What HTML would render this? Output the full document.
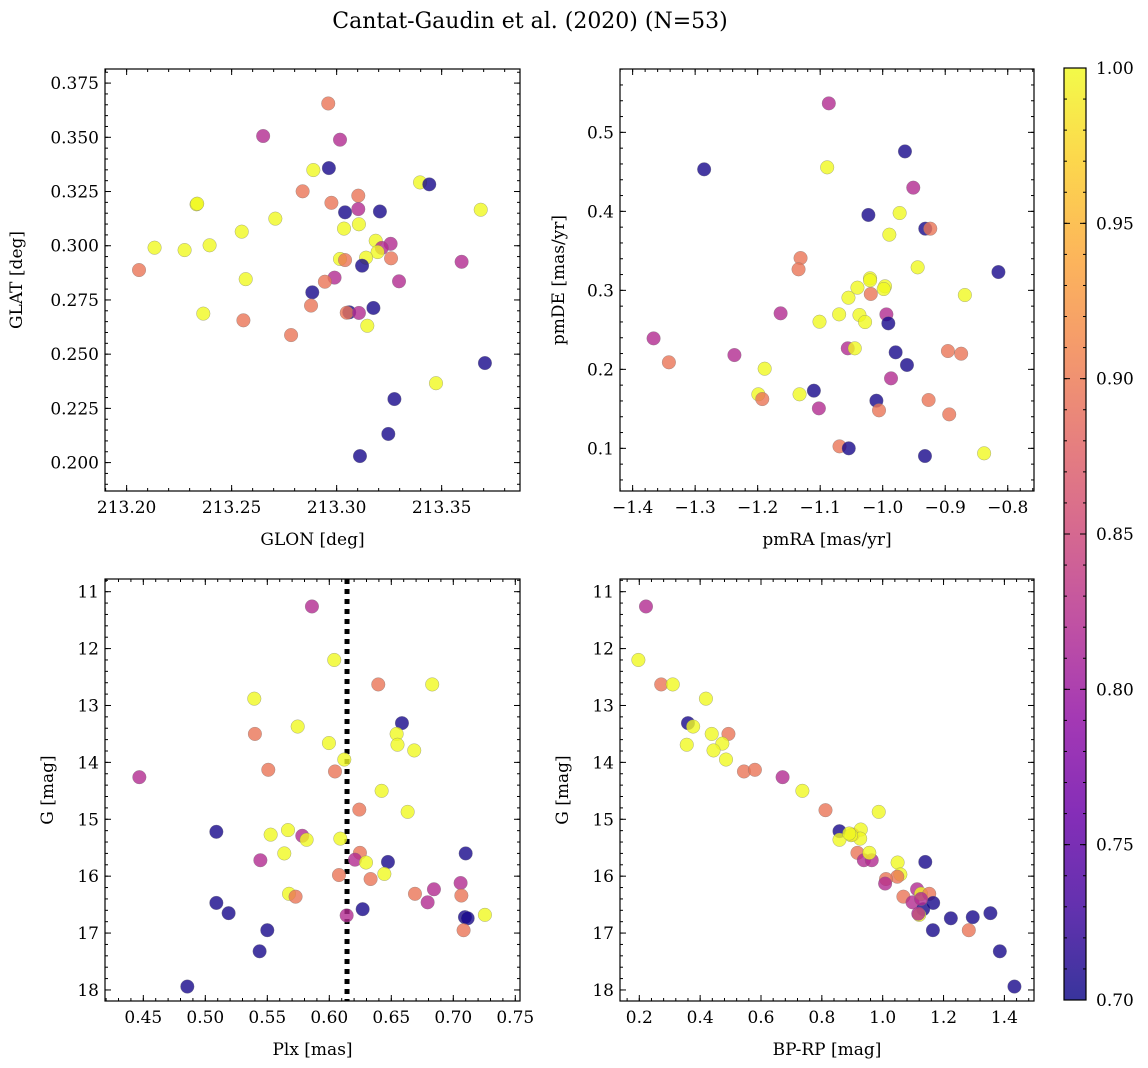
<!DOCTYPE html>
<html><head><meta charset="utf-8"><style>
body{margin:0;background:#fff}
svg{display:block;font-family:"DejaVu Serif","Liberation Serif",serif}
</style></head><body>
<svg id="fig" width="1148" height="1068" viewBox="0 0 1148 1068" xmlns="http://www.w3.org/2000/svg">
<defs>
<linearGradient id="plasma" x1="0" y1="1" x2="0" y2="0">
<stop offset="0" stop-color="#0d0887"/><stop offset="0.1" stop-color="#41049d"/><stop offset="0.2" stop-color="#6a00a8"/><stop offset="0.3" stop-color="#8f0da4"/><stop offset="0.4" stop-color="#b12a90"/><stop offset="0.5" stop-color="#cc4778"/><stop offset="0.6" stop-color="#e16462"/><stop offset="0.7" stop-color="#f2844b"/><stop offset="0.8" stop-color="#fca636"/><stop offset="0.9" stop-color="#fcce25"/><stop offset="1" stop-color="#f0f921"/>
</linearGradient>
</defs>
<text x="530" y="28" text-anchor="middle" font-size="22">Cantat-Gaudin et al. (2020) (N=53)</text>
</svg>
<script>
const Y=1.0,O=0.895,M=0.82,B=0.705;
// Panel 1: GLON vs GLAT
const p1x=[213.296,213.265,213.3016,213.2889,213.2963,213.3397,213.3441,213.2838,213.3103,213.2975,213.2333,213.304,213.3103,213.3206,213.3686,213.2708,213.3035,213.3106,213.2548,213.2133,213.2276,213.2395,213.3186,213.3257,213.3215,213.3195,213.3259,213.314,213.3016,213.304,213.3121,213.3595,213.2059,213.2567,213.299,213.2944,213.3297,213.2884,213.2878,213.2365,213.2556,213.306,213.3048,213.3106,213.3175,213.3146,213.2783,213.3706,213.3473,213.3275,213.3246,213.3111,213.2336];
const p1y=[0.3656,0.3506,0.3489,0.3349,0.3358,0.3292,0.3283,0.3251,0.3231,0.3198,0.3191,0.3154,0.3169,0.3158,0.3166,0.3125,0.3079,0.3099,0.3065,0.2991,0.2980,0.3002,0.3023,0.3009,0.2990,0.2971,0.2942,0.2945,0.2939,0.2934,0.2908,0.2926,0.2888,0.2846,0.2853,0.2834,0.2836,0.2785,0.2724,0.2687,0.2656,0.2693,0.2691,0.2690,0.2713,0.2631,0.2588,0.2459,0.2366,0.2293,0.2132,0.2030,0.3194];
const p1c=[O,M,M,Y,B,Y,B,O,O,O,Y,B,M,B,Y,Y,Y,Y,Y,Y,Y,Y,Y,M,M,Y,O,Y,Y,O,B,M,O,Y,M,O,M,B,O,Y,O,B,O,M,B,Y,O,B,Y,B,B,B,Y];
// Panel 2: pmRA vs pmDE
const p2x=[-1.0862,-0.9644,-1.2856,-1.0888,-0.9511,-1.0229,-0.9729,-0.9319,-0.9239,-0.9894,-1.1314,-1.1346,-0.9441,-0.8149,-1.0202,-1.0202,-1.0404,-0.9963,-0.9984,-1.0191,-1.0548,-0.8686,-1.1633,-1.0697,-1.0372,-1.0282,-1.1011,-0.9941,-0.9910,-1.3665,-1.0559,-1.0447,-1.2372,-1.342,-0.9793,-0.9612,-0.8957,-0.8745,-1.1888,-0.9867,-1.1989,-1.1926,-1.133,-1.1101,-1.1021,-1.0101,-1.0059,-0.9266,-0.8936,-1.0691,-1.0543,-0.9324,-0.8378];
const p2y=[0.5367,0.4759,0.4532,0.4557,0.4300,0.3954,0.3979,0.3781,0.3781,0.3705,0.3409,0.3266,0.3291,0.3232,0.3152,0.3127,0.3034,0.3051,0.3017,0.2954,0.2907,0.2941,0.2709,0.2696,0.2688,0.2599,0.2603,0.2696,0.2582,0.2392,0.2266,0.2266,0.2181,0.2089,0.2215,0.2055,0.2232,0.2198,0.2008,0.1886,0.1684,0.1624,0.1684,0.1730,0.1506,0.1603,0.1481,0.1612,0.1430,0.1025,0.1000,0.0903,0.0937];
const p2c=[M,B,B,Y,M,B,Y,B,O,Y,O,O,Y,B,Y,Y,Y,Y,Y,O,Y,Y,M,Y,Y,Y,Y,M,B,M,M,Y,M,O,B,B,O,O,Y,M,Y,O,Y,B,M,B,O,O,O,O,B,B,Y];
// Panel 3: Plx vs G
const p3x=[0.586,0.604,0.6395,0.683,0.5395,0.5745,0.6586,0.540,0.6543,0.655,0.5997,0.6685,0.6121,0.4468,0.5508,0.6046,0.6422,0.6242,0.6632,0.5089,0.5527,0.5667,0.5782,0.5817,0.6089,0.5637,0.5444,0.6247,0.6207,0.6296,0.6473,0.71,0.6078,0.6333,0.6444,0.6691,0.6844,0.7059,0.7065,0.6793,0.5675,0.5728,0.5089,0.5188,0.614,0.6269,0.7094,0.7116,0.7255,0.7083,0.55,0.5438,0.4855];
const p3y=[11.26,12.20,12.63,12.63,12.88,13.37,13.31,13.50,13.50,13.69,13.66,13.79,13.95,14.26,14.13,14.16,14.50,14.83,14.87,15.22,15.27,15.19,15.29,15.36,15.34,15.60,15.72,15.59,15.71,15.76,15.75,15.60,15.98,16.05,15.96,16.31,16.23,16.12,16.34,16.46,16.31,16.36,16.47,16.65,16.69,16.58,16.72,16.74,16.68,16.95,16.95,17.32,17.94];
const p3c=[M,Y,O,Y,Y,Y,B,O,Y,Y,Y,Y,Y,M,O,O,Y,O,Y,B,Y,Y,M,Y,Y,Y,M,O,M,Y,B,B,O,O,Y,O,M,M,O,M,Y,O,B,B,M,B,B,B,Y,O,B,B,B];
const plxRef=[0.6143];
// Panel 4: BP-RP vs G
const p4x=[0.222,0.197,0.272,0.310,0.419,0.360,0.377,0.493,0.438,0.473,0.356,0.444,0.485,0.544,0.580,0.671,0.736,0.812,0.987,0.858,0.902,0.928,0.926,0.858,0.896,0.917,0.938,0.964,0.956,1.049,1.140,1.058,1.048,1.011,1.008,1.068,1.113,1.098,1.126,1.153,1.133,1.166,1.120,1.117,1.224,1.296,1.354,1.165,1.283,1.385,1.433,0.890,1.126];
const p4y=[11.26,12.20,12.63,12.63,12.88,13.31,13.37,13.50,13.50,13.67,13.69,13.79,13.95,14.16,14.13,14.26,14.50,14.84,14.87,15.21,15.27,15.18,15.34,15.36,15.28,15.59,15.72,15.72,15.59,15.76,15.75,15.97,16.01,16.05,16.13,16.36,16.23,16.46,16.31,16.31,16.58,16.47,16.68,16.66,16.74,16.72,16.65,16.95,16.95,17.32,17.94,15.25,16.40];
const p4c=[M,Y,O,Y,Y,B,Y,O,Y,Y,Y,Y,Y,O,O,M,Y,O,Y,B,O,Y,Y,Y,Y,O,M,M,Y,Y,B,Y,O,O,M,O,M,M,Y,O,B,B,Y,M,B,B,B,B,O,B,B,Y,M];
// Colorbar
const cbTicks=[0.70,0.75,0.80,0.85,0.90,0.95,1.00];
const t1x=[213.20,213.25,213.30,213.35], t1y=[0.200,0.225,0.250,0.275,0.300,0.325,0.350,0.375];
const t2x=[-1.4,-1.3,-1.2,-1.1,-1.0,-0.9,-0.8], t2y=[0.1,0.2,0.3,0.4,0.5];
const t3x=[0.45,0.50,0.55,0.60,0.65,0.70,0.75], tGy=[11,12,13,14,15,16,17,18];
const t4x=[0.2,0.4,0.6,0.8,1.0,1.2,1.4];

const svg=document.getElementById('fig');
const NS='http://www.w3.org/2000/svg';
function mk(tag,attrs,parent){const e=document.createElementNS(NS,tag);for(const k in attrs)e.setAttribute(k,attrs[k]);(parent||svg).appendChild(e);return e;}
const stops=[[13,8,135],[65,4,157],[106,0,168],[143,13,164],[177,42,144],[204,71,120],[225,100,98],[242,132,75],[252,166,54],[252,206,37],[240,249,33]];
function plasma(t){t=Math.max(0,Math.min(1,t))*10;const i=Math.min(9,Math.floor(t)),f=t-i;const a=stops[i],b=stops[i+1];return 'rgb('+a.map((v,k)=>Math.round(v+(b[k]-v)*f)).join(',')+')';}
function cnorm(v){return (v-0.7)/0.3;}
const fmt=(v,d)=>(v<0?'\u2212':'')+Math.abs(v).toFixed(d);

function panel(o){
  const g=mk('g',{});
  
  
  const X=v=>o.L+(v-o.x0)/(o.x1-o.x0)*(o.R-o.L);
  const Yf=o.inv?(v=>o.T+(v-o.y0)/(o.y1-o.y0)*(o.B-o.T)):(v=>o.B-(v-o.y0)/(o.y1-o.y0)*(o.B-o.T));
  const tk=mk('g',{stroke:'#000','stroke-width':1},g);
  
  
  for(let v=Math.ceil(Math.min(o.x0,o.x1)/o.mx-1e-6)*o.mx;v<=Math.max(o.x0,o.x1)+1e-9;v+=o.mx){const x=X(v);mk('line',{x1:x,x2:x,y1:o.B,y2:o.B-3},tk);mk('line',{x1:x,x2:x,y1:o.T,y2:o.T+3},tk);}
  const ylo=Math.min(o.y0,o.y1),yhi=Math.max(o.y0,o.y1);
  for(let v=Math.ceil(ylo/o.my-1e-6)*o.my;v<=yhi+1e-9;v+=o.my){const y=Yf(v);mk('line',{x1:o.L,x2:o.L+3,y1:y,y2:y},tk);mk('line',{x1:o.R,x2:o.R-3,y1:y,y2:y},tk);}
  o.tx.forEach(v=>{const x=X(v);mk('line',{x1:x,x2:x,y1:o.B,y2:o.B-6},tk);mk('line',{x1:x,x2:x,y1:o.T,y2:o.T+6},tk);
    const t=mk('text',{x:x,y:o.B+22,'text-anchor':'middle','font-size':17},g);t.textContent=fmt(v,o.dx);
    });
  o.ty.forEach(v=>{const y=Yf(v);mk('line',{x1:o.L,x2:o.L+6,y1:y,y2:y},tk);mk('line',{x1:o.R,x2:o.R-6,y1:y,y2:y},tk);
    const t=mk('text',{x:o.L-6,y:y+6,'text-anchor':'end','font-size':17},g);t.textContent=fmt(v,o.dy);
    });
  if(o.ref){o.ref.forEach(v=>{const l=mk('line',{x1:X(v),x2:X(v),y1:o.T,y2:o.B,stroke:'#000','stroke-width':5,'stroke-dasharray':'5,5'},g);
    });}
  const pts=mk('g',{},g);
  
  
  o.xs.forEach((xv,i)=>{const c=mk('circle',{cx:X(xv),cy:Yf(o.ys[i]),r:6.8,fill:plasma(cnorm(o.cs[i])),'fill-opacity':0.8,stroke:'#777','stroke-opacity':0.6,'stroke-width':0.5},pts);
    });
  const fr=mk('rect',{x:o.L,y:o.T,width:o.R-o.L,height:o.B-o.T,fill:'none',stroke:'#000','stroke-width':1.2},g);
  
  const xl=mk('text',{x:(o.L+o.R)/2,y:o.B+54,'text-anchor':'middle','font-size':17},g);xl.textContent=o.xlab;
  
  const yx=o.ylx,yc=(o.T+o.B)/2;
  const yl=mk('text',{x:yx,y:yc,'text-anchor':'middle','font-size':17,transform:'rotate(-90 '+yx+' '+yc+')'},g);yl.textContent=o.ylab;
  
}
panel({name:'glon-glat-panel',L:105,R:520,T:69,B:491,x0:213.1897,x1:213.3873,y0:0.1869,y1:0.3815,mx:0.01,my:0.005,tx:t1x,ty:t1y,dx:2,dy:3,xs:p1x,ys:p1y,cs:p1c,xlab:'GLON [deg]',ylab:'GLAT [deg]',ylx:22});
panel({name:'pm-panel',L:620,R:1034,T:69,B:491,x0:-1.4202,x1:-0.758,y0:0.046,y1:0.5802,mx:0.02,my:0.02,tx:t2x,ty:t2y,dx:1,dy:1,xs:p2x,ys:p2y,cs:p2c,xlab:'pmRA [mas/yr]',ylab:'pmDE [mas/yr]',ylx:564});
panel({name:'plx-g-panel',L:105,R:520,T:579,B:1001,x0:0.4191,x1:0.7538,y0:10.777,y1:18.194,inv:true,mx:0.01,my:0.2,tx:t3x,ty:tGy,dx:2,dy:0,xs:p3x,ys:p3y,cs:p3c,ref:plxRef,xlab:'Plx [mas]',ylab:'G [mag]',ylx:53});
panel({name:'cmd-panel',L:620,R:1034,T:579,B:1001,x0:0.1366,x1:1.4973,y0:10.777,y1:18.194,inv:true,mx:0.04,my:0.2,tx:t4x,ty:tGy,dx:1,dy:0,xs:p4x,ys:p4y,cs:p4c,xlab:'BP-RP [mag]',ylab:'G [mag]',ylx:568});

const cb=mk('g',{});


const cT=68,cB=1000,cL=1064,cR=1086;
const CY=v=>cB-(v-0.7)/0.3*(cB-cT);
const cr=mk('rect',{x:cL,y:cT,width:cR-cL,height:cB-cT,fill:'url(#plasma)','fill-opacity':0.82},cb);

for(let v=0.70;v<=1.0001;v+=0.01){const y=CY(v);mk('line',{x1:cR,x2:cR-3,y1:y,y2:y,stroke:'#000'},cb);mk('line',{x1:cL,x2:cL+3,y1:y,y2:y,stroke:'#000'},cb);}
cbTicks.forEach(v=>{const y=CY(v);mk('line',{x1:cR,x2:cR-6,y1:y,y2:y,stroke:'#000'},cb);mk('line',{x1:cL,x2:cL+6,y1:y,y2:y,stroke:'#000'},cb);
  const t=mk('text',{x:cR+10,y:y+6,'font-size':17},cb);t.textContent=v.toFixed(2);
  });
mk('rect',{x:cL,y:cT,width:cR-cL,height:cB-cT,fill:'none',stroke:'#000','stroke-width':1.2},cb);
</script>
</body></html>
